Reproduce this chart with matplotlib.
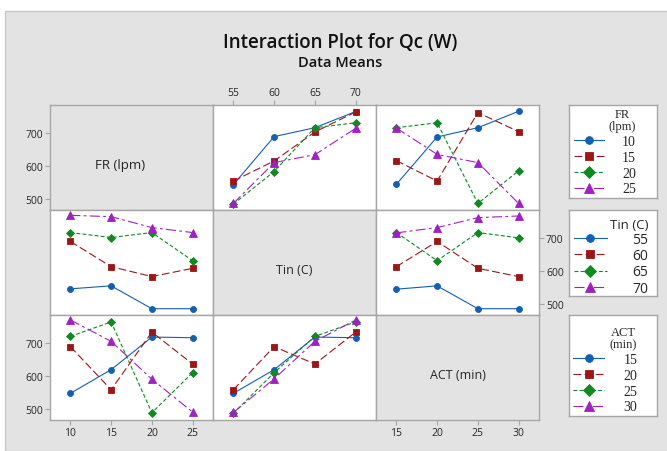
import matplotlib
matplotlib.use("Agg")
import matplotlib.pyplot as plt
from matplotlib.patches import Rectangle
from matplotlib.font_manager import FontProperties

# ---------------- data ----------------
fr_levels = [10, 15, 20, 25]
tin_levels = [55, 60, 65, 70]
act_levels = [15, 20, 25, 30]

# row 1: lines = FR
qc_vs_tin_by_fr = [[544, 690, 717, 766],
                   [555, 616, 704, 765],
                   [485, 584, 717, 732],
                   [487, 611, 635, 715]]
qc_vs_act_by_fr = [[545, 689, 717, 767],
                   [617, 555, 763, 705],
                   [717, 732, 487, 586],
                   [716, 636, 611, 487]]
# row 2: lines = Tin
qc_vs_fr_by_tin = [[547, 556, 487, 487],
                   [690, 614, 584, 609],
                   [717, 702, 717, 632],
                   [769, 765, 732, 717]]
qc_vs_act_by_tin = [[546, 556, 487, 487],
                    [614, 690, 609, 584],
                    [717, 632, 717, 701],
                    [716, 732, 762, 767]]
# row 3: lines = ACT
qc_vs_fr_by_act = [[548, 620, 719, 717],
                   [690, 559, 734, 637],
                   [721, 765, 489, 611],
                   [771, 706, 591, 491]]
qc_vs_tin_by_act = [[548, 620, 719, 717],
                    [559, 690, 637, 734],
                    [487, 611, 721, 765],
                    [490, 592, 706, 771]]

title = "Interaction Plot for Qc (W)"
subtitle = "Data Means"
factor_names = ["FR (lpm)", "Tin (C)", "ACT (min)"]
legend_titles = ["FR\n(lpm)", "Tin (C)", "ACT\n(min)"]
y_ticks = [500, 600, 700]

# ---------------- style ----------------
colors = ["#1360B2", "#9C1616", "#0F8A22", "#A020C2"]
markers = ["o", "s", "D", "^"]
msizes = [4.3, 4.6, 4.4, 6.0]
dashes = ["-", (0, (7, 3)), (0, (3.5, 2)), (0, (9, 3, 2.5, 3))]
BG = "#E3E3E3"
SPINE = "#A6A6A6"
TXT = "#262626"
sans = "Open Sans"
serif = "Liberation Serif"

W, H = 667, 452
fig = plt.figure(figsize=(W / 100, H / 100), dpi=100)
fig.patch.set_facecolor("white")
fig.patches.append(Rectangle((5 / W, 0), 1, (H - 12) / H, transform=fig.transFigure,
                             facecolor=BG, edgecolor="#C8C8C8", lw=1, zorder=-10))

fig.text(340 / W, 1 - 43 / H, title, ha="center", va="center", fontsize=13.5,
         family=sans, color="#111111", fontweight="semibold")
fig.text(340 / W, 1 - 63 / H, subtitle, ha="center", va="center", fontsize=10.5,
         family=sans, color="#111111", fontweight="semibold")

col_x = [50, 213, 376, 539]
row_y = [106, 210.7, 316, 420.7]
levels = [fr_levels, tin_levels, act_levels]
panel_data = {(0, 1): qc_vs_tin_by_fr, (0, 2): qc_vs_act_by_fr,
              (1, 0): qc_vs_fr_by_tin, (1, 2): qc_vs_act_by_tin,
              (2, 0): qc_vs_fr_by_act, (2, 1): qc_vs_tin_by_act}

axes = {}
handles = {0: None, 1: None, 2: None}
for r in range(3):
    for c in range(3):
        x0, x1 = col_x[c], col_x[c + 1]
        y0, y1 = row_y[r], row_y[r + 1]
        ax = fig.add_axes([x0 / W, 1 - y1 / H, (x1 - x0) / W, (y1 - y0) / H])
        axes[(r, c)] = ax
        lv = levels[c]
        step = lv[1] - lv[0]
        ax.set_xlim(lv[0] - 0.5 * step, lv[-1] + 0.5 * step)
        ax.set_ylim(468, 786)
        for s in ax.spines.values():
            s.set_color(SPINE)
            s.set_linewidth(1.0)
        ax.tick_params(length=3.5, width=0.8, color=SPINE, labelsize=7.5,
                       labelcolor=TXT, pad=1.5)
        ax.set_xticks([])
        ax.set_yticks([])
        if r == c:
            ax.set_facecolor(BG)
            xpos = 0.43 if r == 0 else 0.5
            fs = 9.6 if r == 0 else 9
            ax.text(xpos, 0.43, factor_names[r], transform=ax.transAxes, ha="center",
                    va="center", fontsize=fs, family=sans, color=TXT)
        else:
            ax.set_facecolor("white")
            data = panel_data[(r, c)]
            hs = []
            for i, vals in enumerate(data):
                ln, = ax.plot(lv, vals, color=colors[i], linestyle=dashes[i], lw=0.8,
                              marker=markers[i], markersize=msizes[i],
                              markeredgewidth=0.6, markeredgecolor=colors[i])
                hs.append(ln)
            if handles[r] is None:
                handles[r] = hs

# y ticks
for (r, c, side) in [(0, 0, "left"), (2, 0, "left"), (1, 2, "right")]:
    ax = axes[(r, c)]
    ax.set_yticks(y_ticks)
    if side == "right":
        ax.yaxis.tick_right()
        ax.tick_params(axis="y", left=False, right=True)
    for lab in ax.get_yticklabels():
        lab.set_family(sans)
# x ticks
for (r, c, side) in [(2, 0, "bottom"), (0, 1, "top"), (2, 2, "bottom")]:
    ax = axes[(r, c)]
    ax.set_xticks(levels[c])
    if side == "top":
        ax.xaxis.tick_top()
    for lab in ax.get_xticklabels():
        lab.set_family(sans)

# legends
leg_boxes = [(569, 106, 657, 199), (569, 210.7, 657, 296.7), (569, 316, 657, 417)]
leg_labels = [fr_levels, tin_levels, act_levels]
leg_fonts = [serif, sans, serif]
leg_anchor = [(0.825, 1.024), (0.962, 0.967), (0.87, 0.97)]
leg_hlen = [2.2, 2.4, 2.2]
leg_hpad = [1.3, 1.8, 1.4]
leg_lsp = [0.2, 0.08, 0.2]
leg_pad = [0.4, 0.4, 0.6]
for k in range(3):
    x0, y0, x1, y1 = leg_boxes[k]
    lax = fig.add_axes([x0 / W, 1 - y1 / H, (x1 - x0) / W, (y1 - y0) / H])
    lax.set_xticks([])
    lax.set_yticks([])
    lax.set_facecolor("white")
    for s in lax.spines.values():
        s.set_color(SPINE)
        s.set_linewidth(1.0)
    fp = FontProperties(family=leg_fonts[k], size=10)
    tfp = FontProperties(family=leg_fonts[k], size=9 if k != 1 else 9.5)
    leg = lax.legend(handles[k], [str(v) for v in leg_labels[k]], title=legend_titles[k],
                     loc="upper right", bbox_to_anchor=leg_anchor[k], frameon=False,
                     prop=fp, title_fontproperties=tfp,
                     handlelength=leg_hlen[k], handletextpad=leg_hpad[k],
                     labelspacing=leg_lsp[k], borderpad=leg_pad[k],
                     markerscale=1.3, borderaxespad=0.0, alignment="right")
    leg.get_title().set_multialignment("center")
    leg.get_title().set_linespacing(1.0)
    leg.get_title().set_color(TXT)
    for t in leg.get_texts():
        t.set_color(TXT)

fig.savefig("out.png", dpi=100)
